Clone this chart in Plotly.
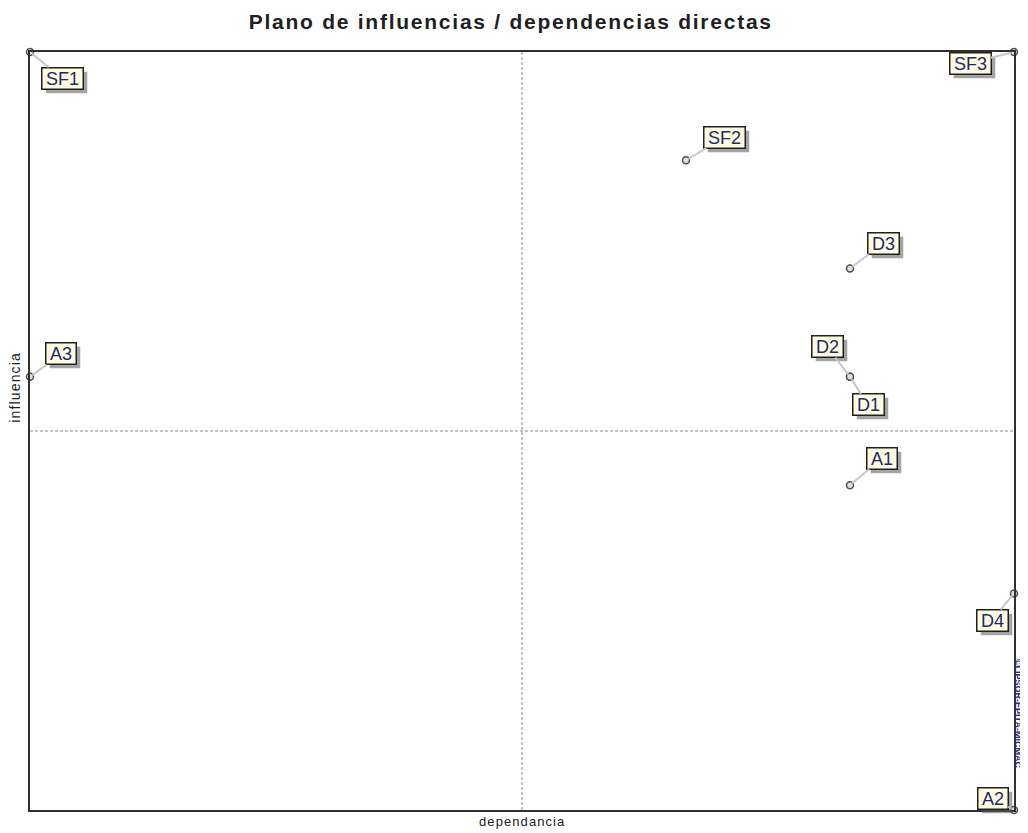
import plotly.graph_objects as go

labels = ["SF1", "SF2", "SF3", "D3", "D2", "D1", "A3", "A1", "D4", "A2"]
dependencia = [0, 4, 6, 5, 5, 5, 0, 5, 6, 6]
influencia = [7, 6, 7, 5, 4, 4, 4, 3, 2, 0]
# label offsets in pixels (dx, dy; screen coordinates)
offsets = {"SF1": (32, 26), "SF2": (38, -23), "SF3": (-44, 11), "D3": (33, -25),
           "D2": (-23, -30), "D1": (18, 28), "A3": (31, -23), "A1": (32, -27),
           "D4": (-22, 27), "A2": (-21, -12)}

xmin, xmax = min(dependencia), max(dependencia)
ymin, ymax = min(influencia), max(influencia)
FONT = "Liberation Sans, Arial"
TS = "\u2009"
HS = "\u200a"


def spaced(s, sep):
    return sep.join(s)


fig = go.Figure()
fig.add_trace(go.Scatter(
    x=dependencia, y=influencia, mode="markers", cliponaxis=False,
    marker=dict(size=7, color="#dfe3cf", line=dict(color="#505050", width=1.5)),
    hoverinfo="text", text=labels, showlegend=False))

ann = []
for lab, xv, yv in zip(labels, dependencia, influencia):
    dx, dy = offsets[lab]
    txt = TS + lab + TS
    # shadow
    ann.append(dict(x=xv, y=yv, xref="x", yref="y", text=txt, showarrow=False,
                    xshift=dx + 4, yshift=-dy - 4,
                    font=dict(size=18, color="rgba(0,0,0,0)", family=FONT),
                    bgcolor="rgba(90,90,90,0.55)",
                    borderpad=0, borderwidth=1.5, bordercolor="rgba(0,0,0,0)"))
    ann.append(dict(x=xv, y=yv, xref="x", yref="y", text=txt, showarrow=True,
                    ax=dx, ay=dy, axref="pixel", ayref="pixel", arrowhead=0,
                    arrowwidth=2, arrowcolor="#c8c8c8", standoff=3,
                    font=dict(size=18, color="#1a2a6a", family=FONT),
                    bgcolor="#fffbe0", bordercolor="#202020", borderwidth=1.5, borderpad=0))

ann.append(dict(text=spaced("dependancia", HS), x=0.5, y=-0.003, xref="paper", yref="paper",
                xanchor="center", yanchor="top", showarrow=False,
                font=dict(size=13, color="#202020", family=FONT)))
ann.append(dict(text=spaced("influencia", HS), x=-0.0152, y=0.557, xref="paper", yref="paper",
                xanchor="center", yanchor="middle", showarrow=False, textangle=-90,
                font=dict(size=14, color="#202020", family=FONT)))
ann.append(dict(text="<b>©LIPSOR-EPITA-MICMAC</b>", x=1.0112, y=0.128, xref="paper",
                yref="paper", xanchor="right", yanchor="middle", showarrow=False, textangle=90,
                font=dict(size=9, color="#2a2a80", family=FONT)))

shapes = [
    dict(type="line", xref="x", yref="paper", x0=(xmin + xmax) / 2, x1=(xmin + xmax) / 2,
         y0=0, y1=1, line=dict(color="#8a8a8a", width=1, dash="3px,2px")),
    dict(type="line", xref="paper", yref="y", x0=0, x1=1, y0=(ymin + ymax) / 2,
         y1=(ymin + ymax) / 2, line=dict(color="#8a8a8a", width=1, dash="3px,2px")),
]

fig.update_layout(
    width=1020, height=825, paper_bgcolor="white", plot_bgcolor="white",
    margin=dict(l=22, r=12, t=44, b=23),
    title=dict(text="<b>" + spaced("Plano de influencias / dependencias directas", HS) + "</b>",
               x=0.492, xanchor="center", y=0.983, yanchor="middle",
               font=dict(size=21, color="#202020", family=FONT)),
    xaxis=dict(range=[xmin, xmax], showgrid=False, zeroline=False, showticklabels=False,
               ticks="", showline=True, mirror=True, linecolor="#303030", linewidth=2),
    yaxis=dict(range=[ymin, ymax], showgrid=False, zeroline=False, showticklabels=False,
               ticks="", showline=True, mirror=True, linecolor="#303030", linewidth=2),
    annotations=ann, shapes=shapes,
)
fig.write_html("out.html")
